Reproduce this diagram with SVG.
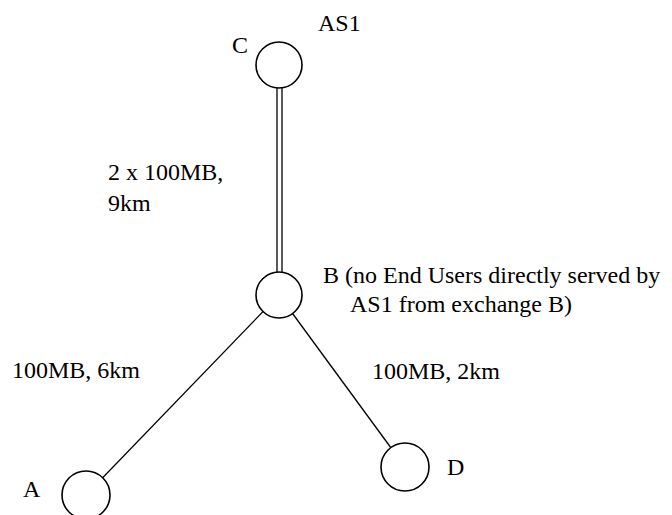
<svg xmlns="http://www.w3.org/2000/svg" width="672" height="515" viewBox="0 0 672 515">
<style>
.node{fill:#fff;stroke:#000;stroke-width:1.6}
.link{stroke:#000;stroke-width:1.3;fill:none}
.t{font-family:'Liberation Serif','DejaVu Serif',serif;font-size:24px;fill:#000}
</style>
<rect width="672" height="515" fill="#fff"/>
<g id="connectors">
<line class="link" x1="277" y1="88" x2="277" y2="273"/>
<line class="link" x1="282" y1="88" x2="282" y2="273"/>
<line class="link" x1="279" y1="295" x2="86" y2="495"/>
<line class="link" x1="279" y1="295" x2="405" y2="467"/>
</g>
<g id="labels" class="t" font-family="Liberation Serif, serif">
<text x="108" y="180">2 x 100MB,</text>
<text x="108" y="211">9km</text>
<text x="12" y="378">100MB, 6km</text>
<text x="372" y="379">100MB, 2km</text>
</g>
<g id="node-C" class="t" font-family="Liberation Serif, serif">
<circle class="node" cx="279" cy="65" r="23"/>
<text x="232" y="53">C</text>
<text x="318" y="31">AS1</text>
</g>
<g id="node-B" class="t" font-family="Liberation Serif, serif">
<circle class="node" cx="279" cy="295" r="23"/>
<text x="323" y="283">B (no End Users directly served by</text>
<text x="350" y="312">AS1 from exchange B)</text>
</g>
<g id="node-A" class="t" font-family="Liberation Serif, serif">
<circle class="node" cx="86" cy="495" r="24"/>
<text x="23" y="497">A</text>
</g>
<g id="node-D" class="t" font-family="Liberation Serif, serif">
<circle class="node" cx="405" cy="467" r="24"/>
<text x="447" y="475">D</text>
</g>
</svg>
